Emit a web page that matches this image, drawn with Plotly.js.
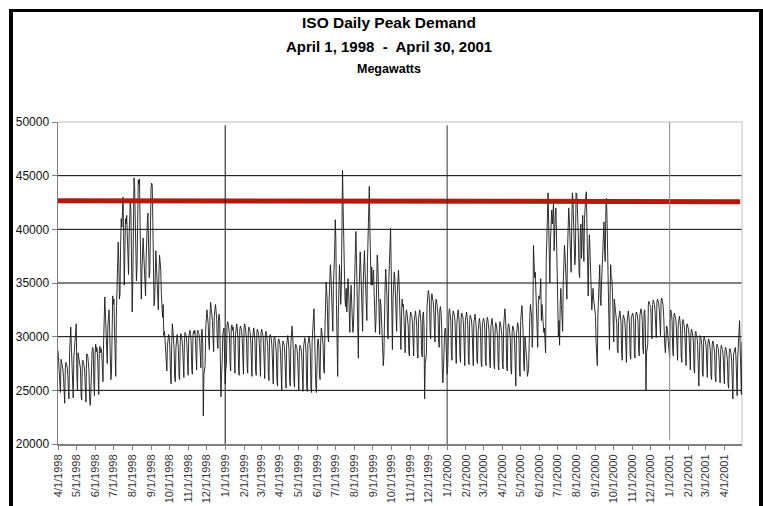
<!DOCTYPE html>
<html><head><meta charset="utf-8">
<script src="https://cdn.plot.ly/plotly-3.0.1.min.js"></script>
<style>
html,body{margin:0;padding:0;overflow:hidden;background:#fff}
#chart{position:absolute;left:0;top:0;width:763px;height:506px}
#frame{position:absolute;left:9px;top:9px;width:754px;height:600px;box-sizing:border-box;border-left:4px solid #000;border-top:3px solid #000;border-right:4px solid #000;pointer-events:none}
</style></head>
<body><div id="chart"></div><div id="frame"></div>
<script>
// Daily peak demand (MW), April 1 1998 - April 30 2001, one row per month
const demand1998 = [
28700,27500,26800,25200,24800,27900,27600,27200,27000,26300,24600,23800,27000,27600,27400,27200,26500,24500,24200,28500,30600,30900,29000,27500,25000,24300,28000,28800,29500,30500,
31200,26500,25000,28500,28200,27600,27400,27000,24500,24100,27600,27800,27500,27300,26600,24100,23900,28300,28400,28200,27700,26800,24300,23600,24700,27800,28600,29000,28700,25600,24500,
28400,29300,28600,29000,28300,25800,24600,28800,29100,28500,28900,28400,26200,25800,29500,31500,33700,32100,30800,28000,27500,31000,31800,32500,30500,29000,26000,26800,31200,33800,
33000,33500,30500,27500,26300,32000,35500,37900,38800,37000,33500,34000,38500,41000,40200,42000,43000,39500,34800,38000,41000,40500,41300,39800,36500,35800,39500,41200,42800,41500,38000,
32300,35000,41000,44800,44000,41500,38000,35200,36500,42500,44600,44200,44700,40500,35500,33500,36000,38500,39200,37800,36000,34000,33800,37500,39800,40800,41500,39500,35500,36000,42500,
43800,44300,44100,40600,36000,32900,33500,37300,38000,36500,35000,33000,32500,35800,37600,37000,36200,34000,32300,31800,33000,30100,30500,29800,29000,27800,26800,29200,29800,30200,
29900,29000,26500,25600,29300,31200,30600,29800,28900,26100,25800,29000,29700,30200,29600,28800,26300,26000,29500,30300,30000,29700,29000,26600,26200,29800,30400,30200,30000,29200,26800,
26400,30000,30400,30600,30300,29500,27000,26500,30100,30500,30300,30600,29800,27200,26900,30300,30600,30400,30200,29600,27400,27100,30500,30700,29500,22600,26500,26800,27300,30900,
31600,32500,31800,31200,29500,28800,32000,33200,32600,32200,31500,29800,28600,31900,32800,33000,32400,31600,29600,28900,31800,32100,31500,29000,24400,26500,27500,30200,30500,30800,28000
];
const demand1999 = [
25600,27000,27400,31000,31400,31200,30800,30200,27500,26800,30800,31100,30600,30900,30000,27200,26600,30200,30900,31200,30700,29900,27000,26400,30600,31000,30800,30500,29800,27100,26500,
30800,31200,30900,30500,29800,27300,26600,30500,30900,30700,30400,29600,27000,26300,29800,30600,30800,30300,29500,26900,26400,30400,30700,30500,30200,29400,26800,26300,
30300,30700,30400,30100,29300,26700,26100,30200,30500,30300,29900,29100,26500,25900,29900,30200,30000,29700,28900,26200,25600,29700,30000,29800,29400,28600,26000,25400,29500,29800,29600,
29300,28500,25800,25000,29000,29600,29400,29200,28400,25700,25200,29200,29800,30100,29500,28700,25900,25400,29400,30200,31000,29900,28900,26000,25300,28800,29300,29100,28900,28200,
25500,25000,28600,29200,29000,28800,28100,25300,24900,29100,29600,29900,29400,28500,25400,24900,29300,29800,30000,29500,28600,25200,24800,29600,30500,31600,32600,30400,26800,25500,24800,
28700,29500,29800,29000,26500,26000,29400,30800,30500,29800,29200,27000,26600,30500,32600,35100,34200,33000,30000,29500,33500,35800,36700,35600,34000,31500,30500,34800,36200,37800,
40900,39000,33000,30500,26300,32000,35500,36700,35000,33000,34500,40500,45500,42000,38500,36000,33500,32800,34500,32300,34000,35400,34200,31000,30400,33500,34800,33200,32000,30400,31000,
32500,35500,37800,39800,37000,34000,31500,28000,33800,35500,37900,36500,34500,31200,30500,35000,37500,38000,36200,34800,32000,31500,37000,40500,43000,44000,40000,35500,34800,36500,34800,
35500,36200,34000,31200,30400,31500,36000,37600,36800,34200,31000,30200,33500,33000,31800,30500,28500,27300,28200,33000,34800,36300,35500,33800,30500,29800,35000,37500,39000,40100,
36500,31000,28800,33500,35000,36000,35500,34000,31500,30500,34000,35500,36200,35000,33500,30200,28800,32000,33500,32800,33000,31800,29000,28500,31800,32500,32200,31500,31000,28600,28200,
31800,32300,32100,31900,31200,28700,28200,31500,32000,32400,31800,31000,28500,28000,31700,32200,32500,32000,31300,28600,28100,32000,32300,31000,24200,27500,28000,28400,32800,33500,
34300,34000,33200,30400,29800,33500,34000,33600,33300,32500,30000,29500,33000,33500,33200,32800,32000,29600,29000,32500,32800,32300,31000,27100,25700,27000,29500,30500,30800,30200,28000
];
const demand2000 = [
26500,27300,31500,32300,32600,32200,31500,28500,27800,31800,32400,32200,32000,31300,28200,27500,31200,32000,32500,32100,31200,28300,27600,31600,32200,32000,31800,31000,28000,27300,31500,
32000,32300,31800,31000,28000,27400,31400,32000,31800,31600,30800,27800,27300,31300,31800,32100,31500,30600,27700,27500,30500,31500,31700,31400,30500,27600,27200,31200,31600,
31700,31400,30700,27800,27300,31300,31800,31600,31200,30400,27600,27100,31000,31500,31700,31000,30200,27400,27000,30800,31300,31100,30700,30000,27300,26900,31000,31400,31200,30800,30100,
27500,27000,31000,31500,32600,31800,30500,27200,26800,30800,31200,31000,30600,29800,26900,26500,30500,31000,30800,30400,29400,26600,25400,30200,30900,31300,31000,30200,27000,26300,
31500,32200,32900,31800,30500,27500,26800,30000,29500,28500,27800,26300,26600,27000,30500,31800,33000,32500,31800,29000,30500,38500,37000,35500,36000,34500,32000,31500,29000,33000,33800,
33500,34000,35400,31500,33000,32000,31500,30400,30800,29200,28500,37000,39500,42500,43400,40500,36700,35000,39000,41000,41800,40500,41500,42400,38000,40500,41500,42000,39500,35500,
31600,30000,31500,29200,33000,34500,33000,31000,30500,35000,37300,38500,37500,36000,34000,33500,38000,40000,42000,41000,39500,37000,36000,40500,43400,42700,41000,38500,36700,37500,43400,
43300,42500,41300,39000,36000,35500,39500,40500,37300,39500,41300,38500,37000,41000,42500,43000,43500,41000,36000,33800,37500,39500,38000,35400,34500,32500,33500,34500,33500,33000,32300,
32000,29500,28000,27300,32000,34500,35500,36700,33500,32900,35000,36500,37500,38500,40700,38000,37000,41500,42900,41000,36900,34000,31000,28800,33500,36700,35500,35400,34000,31000,
29500,33500,32900,32500,32000,31200,28800,28500,31500,32200,32400,32000,31300,28500,27800,31600,32000,31800,31500,30800,28000,27600,31400,32100,32400,31900,31000,28300,27900,31700,32000,
32200,32000,31200,28500,28000,31800,32300,32200,32000,31300,28700,28200,32000,32400,32600,32200,31500,28900,28400,32300,32500,31200,25000,28500,29000,29300,33000,33300,33000,32800,
32800,30300,29800,33000,33400,33200,33000,32400,30500,29900,33200,33500,33300,33100,32500,30700,30100,33400,33600,33300,33000,32200,30000,29200,28500,30500,31000,30800,30000,28700,28200
];
const demand2001 = [
28000,32300,32500,32100,31500,28800,28200,32000,32200,31900,31600,30900,28400,27800,31000,31800,31900,31500,30700,28200,27600,31400,31600,31300,31000,30300,27900,27300,31000,31200,30900,
30700,30000,27300,26900,30400,30700,30500,30200,29600,27000,26600,30300,30500,30200,30000,29300,26800,25400,28000,30100,29900,29700,29100,26600,26300,29800,30000,29700,
29600,29000,26600,26200,29400,29800,29600,29300,28700,26400,26000,29300,29600,29400,29100,28500,26200,25800,29000,29300,29100,28900,28200,26000,25700,28800,29200,29000,28800,28200,26000,
25600,28700,29000,28800,28500,27900,25600,25200,28500,28900,28700,28400,27700,25200,24200,28300,28600,28800,29000,28200,25000,24500,28000,29500,30500,31500,29000,26500,24600,29500
];
const firstDay = '1998-04-01';
const lastDay = '2001-04-30';

const monthTickLabels = ["4/1/1998","5/1/1998","6/1/1998","7/1/1998","8/1/1998","9/1/1998","10/1/1998","11/1/1998","12/1/1998",
"1/1/1999","2/1/1999","3/1/1999","4/1/1999","5/1/1999","6/1/1999","7/1/1999","8/1/1999","9/1/1999","10/1/1999","11/1/1999","12/1/1999",
"1/1/2000","2/1/2000","3/1/2000","4/1/2000","5/1/2000","6/1/2000","7/1/2000","8/1/2000","9/1/2000","10/1/2000","11/1/2000","12/1/2000",
"1/1/2001","2/1/2001","3/1/2001","4/1/2001"];
const yTickValues = [20000,25000,30000,35000,40000,45000,50000];
const gridValues = [25000,30000,35000,40000,45000];
const yearLineDates = ['1999-01-01','2000-01-01','2001-01-01'];
const refLineDates = ['1998-04-01','2001-04-27'];
const refLineMW = [42670,42575];

const counts = [demand1998.length, demand1999.length, demand2000.length, demand2001.length];
const expected = [275,365,366,120];
if (counts.join() !== expected.join()) throw new Error('count mismatch ' + counts.join());

const peakMW = demand1998.concat(demand1999, demand2000, demand2001);
const t0 = Date.parse(firstDay + 'T00:00:00Z');
const days = peakMW.map((_, i) => new Date(t0 + i * 86400000).toISOString().slice(0, 10));
const tickVals = monthTickLabels.map(s => { const p = s.split('/'); return p[2] + '-' + p[0].padStart(2,'0') + '-' + p[1].padStart(2,'0'); });

const titleFont = '"Liberation Sans", Arial, sans-serif';
const arial = 'Arial, "Liberation Sans", sans-serif';

const shapes = [];
gridValues.forEach(v => shapes.push({type:'line', xref:'paper', x0:0, x1:1, yref:'y', y0:v, y1:v, line:{color:'#000', width:1}, layer:'below'}));
shapes.push({type:'line', xref:'paper', x0:0, x1:1, yref:'paper', y0:1, y1:1, line:{color:'#c0c0c0', width:1}, layer:'below'});
shapes.push({type:'line', xref:'paper', x0:1, x1:1, yref:'paper', y0:0, y1:1, line:{color:'#c0c0c0', width:1}, layer:'below'});
const yearColors = ['#111','#333','#888'];
const yearTops = [49700, 49700, 50000];
const yearBottoms = [19800, 20000, 20400];
yearLineDates.forEach((d, i) => shapes.push({type:'line', xref:'x', x0:d, x1:d, yref:'y', y0:yearBottoms[i], y1:yearTops[i], line:{color:yearColors[i], width:1}, layer:'above'}));

const traces = [
  {type:'scatter', mode:'lines', x:days, y:peakMW, line:{color:'#1a1a1a', width:0.9}, hoverinfo:'x+y', showlegend:false},
  {type:'scatter', mode:'lines', x:refLineDates, y:refLineMW, line:{color:'#b5190c', width:5}, hoverinfo:'skip', showlegend:false, cliponaxis:false}
];

const layout = {
  width:763, height:506, autosize:false,
  margin:{l:58, r:21, t:122, b:62, pad:0},
  paper_bgcolor:'#fff', plot_bgcolor:'#fff',
  showlegend:false,
  title:{text:'<b>ISO Daily Peak Demand</b>', font:{family:titleFont, size:15.5, color:'#000'}, xref:'container', x:389/763, xanchor:'center', yref:'container', y:1-23/506, yanchor:'middle'},
  annotations:[
    {text:'<b>April 1, 1998\u00a0 -\u00a0 April 30, 2001</b>', xref:'paper', yref:'paper', x:(389-58)/684, y:(444-46)/322, xanchor:'center', yanchor:'middle', showarrow:false, font:{family:titleFont, size:15, color:'#000'}},
    {text:'<b>Megawatts</b>', xref:'paper', yref:'paper', x:(389-58)/684, y:(444-69)/322, xanchor:'center', yanchor:'middle', showarrow:false, font:{family:titleFont, size:12.5, color:'#000'}}
  ],
  xaxis:{type:'date', range:[firstDay, lastDay], tickmode:'array', tickvals:tickVals, ticktext:monthTickLabels, tickangle:-90,
    tickfont:{family:arial, size:11, color:'#333'}, ticks:'outside', ticklen:4, tickcolor:'#808080', tickwidth:1,
    showgrid:false, zeroline:false, showline:true, linecolor:'#808080', linewidth:2, fixedrange:true},
  yaxis:{range:[20000,50000], tickmode:'array', tickvals:yTickValues, ticktext:yTickValues.map(String),
    tickfont:{family:arial, size:12, color:'#111'}, ticks:'outside', ticklen:5, tickcolor:'#808080', tickwidth:1,
    showgrid:false, zeroline:false, showline:true, linecolor:'#808080', linewidth:1.5, fixedrange:true},
  shapes:shapes
};

Plotly.newPlot('chart', traces, layout, {displayModeBar:false, staticPlot:true});
</script>
</body></html>
